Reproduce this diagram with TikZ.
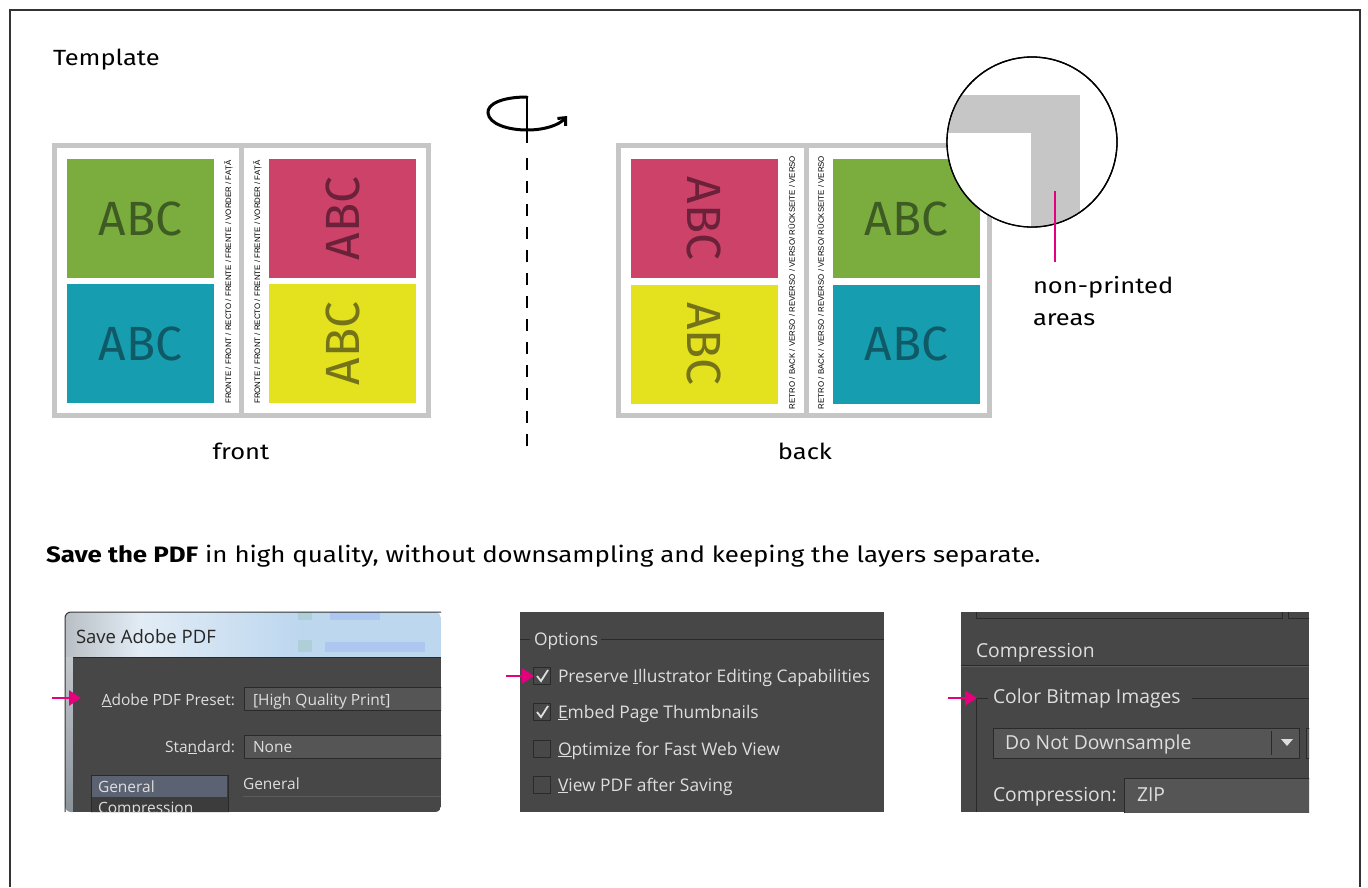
\documentclass[tikz,border=0pt]{standalone}
\usepackage{fontspec}
\setmainfont{Fira Sans}[FakeStretch=1.16]
\newfontfamily\abcfont{Fira Sans}
\newfontfamily\uifont{Open Sans}
\newfontfamily\arialfont{Liberation Sans}
\usetikzlibrary{arrows.meta}
\definecolor{tgray}{HTML}{C6C6C6}
\definecolor{cgreen}{HTML}{7AAD3E}
\definecolor{tgreen}{HTML}{3D5B22}
\definecolor{cteal}{HTML}{169DB0}
\definecolor{tteal}{HTML}{0F5A66}
\definecolor{cmag}{HTML}{CC4269}
\definecolor{tmag}{HTML}{6B2139}
\definecolor{cyel}{HTML}{E4E11E}
\definecolor{tyel}{HTML}{75731A}
\definecolor{pinkc}{HTML}{E5007D}
\definecolor{panel}{HTML}{474747}
\definecolor{uitext}{HTML}{DEDEDE}
\definecolor{fieldc}{HTML}{555555}
\definecolor{darkline}{HTML}{2A2A2A}
\definecolor{liteline}{HTML}{5C5C5C}
\definecolor{selrow}{HTML}{5B6272}
\definecolor{tbL}{HTML}{9AA3AB}
\definecolor{tbM}{HTML}{E2ECF5}
\definecolor{tbR}{HTML}{BDD7EF}
\definecolor{framec}{HTML}{333333}
\begin{document}
\begin{tikzpicture}[x=1pt,y=-1pt,
  every node/.style={inner sep=0pt,outer sep=0pt},
  txt/.style={font=\fontsize{22}{26}\selectfont, text=black},
  abc/.style={font=\abcfont\fontsize{48}{48}\selectfont},
  cbox/.style={minimum width=147pt,minimum height=119pt},
  rbox/.style={minimum width=119pt,minimum height=147pt},
  vtext/.style={font=\arialfont\fontsize{7.9}{9}\selectfont, text=black},
  ui/.style={font=\uifont\fontsize{15.5}{18}\selectfont, text=uitext, anchor=base west},
  uimid/.style={font=\uifont\fontsize{17.4}{20}\selectfont, text=uitext, anchor=base west},
  uibig/.style={font=\uifont\fontsize{19.3}{22}\selectfont, text=uitext, anchor=base west},
  chk/.style={draw=darkline, fill=fieldc!85!black, line width=1pt, minimum size=17pt},
  chkmark/.style={draw=uitext, line width=1.8pt},
  field/.style={draw=darkline, fill=fieldc, line width=1pt},
  pinkarrow/.style={draw=pinkc, line width=2.4pt, -{Triangle[length=12pt,width=15pt]}},
  rotarrow/.style={line width=3pt, line cap=round, -{Straight Barb[length=6pt,width=11pt]}}
]
\useasboundingbox (0,0) rectangle (1368,887);
\fill[white] (0,0) rectangle (1368,887);
\draw[framec, line width=1.3pt] (10,887) -- (10,10) -- (1360,10) -- (1360,887);

\node[txt, anchor=base west] (template) at (53,65) {Template};

% ---------- front template ----------
\fill[tgray] (52,143) rectangle (431,418);
\fill[white] (57,148) rectangle (239,413);
\fill[white] (244,148) rectangle (426,413);
\node[cbox, fill=cgreen, text=tgreen, abc] (fgreen) at (140.5,218.5) {ABC};
\node[cbox, fill=cteal, text=tteal, abc] (fteal) at (140.5,343.5) {ABC};
\node[rbox, fill=cmag, text=tmag, abc, rotate=90] (fmag) at (342.5,218.5) {ABC};
\node[rbox, fill=cyel, text=tyel, abc, rotate=90] (fyel) at (342.5,343.5) {ABC};
\node[vtext, rotate=90] (ftxt1) at (228.5,282) {FRONTE / FRONT / RECTO / FRENTE / FRENTE / VORDER / FAȚĂ};
\node[vtext, rotate=90] (ftxt2) at (257.5,282) {FRONTE / FRONT / RECTO / FRENTE / FRENTE / VORDER / FAȚĂ};
\node[txt, anchor=base] (front) at (241,459) {front};

% ---------- rotation axis ----------
\coordinate (axtop) at (527,97);
\coordinate (axmid) at (527,143);
\coordinate (axdash) at (527,158);
\coordinate (axbot) at (527,457);
\coordinate (rotend) at (567,116);
\draw[line width=2pt] (axtop) -- (axmid);
\draw[line width=2pt, dash pattern=on 12pt off 11pt] (axdash) -- (axbot);
\draw[rotarrow] (axtop) .. controls (502,97) and (487,104) .. (488,113)
  .. controls (489,124) and (508,130) .. (527,130)
  .. controls (545,130) and (559,125) .. (rotend);

% ---------- back template ----------
\fill[tgray] (616,143) rectangle (992,418);
\fill[white] (621,148) rectangle (804,413);
\fill[white] (809,148) rectangle (987,413);
\node[rbox, fill=cmag, text=tmag, abc, rotate=-90] (bmag) at (704.5,218.5) {ABC};
\node[rbox, fill=cyel, text=tyel, abc, rotate=-90] (byel) at (704.5,344) {ABC};
\node[cbox, fill=cgreen, text=tgreen, abc] (bgreen) at (906.5,218.5) {ABC};
\node[cbox, fill=cteal, text=tteal, abc] (bteal) at (906.5,344) {ABC};
\node[vtext, rotate=90] (btxt1) at (791.5,282.5) {RETRO / BACK / VERSO / REVERSO / VERSO/ RÜCKSEITE / VERSO};
\node[vtext, rotate=90] (btxt2) at (820.5,282.5) {RETRO / BACK / VERSO / REVERSO / VERSO/ RÜCKSEITE / VERSO};
\node[txt, anchor=base] (back) at (805,459) {back};

% ---------- magnifier ----------
\node[circle, draw=black, line width=1.3pt, fill=white, minimum size=170pt] (mag) at (1032,142) {};
\begin{scope}
  \clip (1032,142) circle (84.3);
  \fill[tgray] (930,95) rectangle (1080,240);
  \fill[white] (930,133) rectangle (1031,240);
\end{scope}
\draw[line width=1.3pt] (mag) circle (85);
\coordinate (pk1) at (1055,191);
\coordinate (pk2) at (1055,262);
\draw[pinkc, line width=2.6pt] (pk1) -- (pk2);
\node[txt, anchor=base west] (np1) at (1033,293) {non-printed};
\node[txt, anchor=base west] (np2) at (1033,325) {areas};

% ---------- save text ----------
\node[txt, font=\fontsize{22.3}{26}\selectfont, anchor=base west] (save) at (46,562) {\textbf{Save the PDF} in high quality, without downsampling and keeping the layers separate.};

% ---------- screenshot 1 ----------
\begin{scope}
  \clip[rounded corners=6pt] (65,812) -- (65,612) -- (441,612) -- (441,812) -- cycle;
  \shade[left color=tbL!70!white, right color=tbM] (65,612) rectangle (140,657);
  \shade[left color=tbM, right color=tbR] (140,612) rectangle (300,657);
  \fill[tbR] (300,612) rectangle (441,657);
  \fill[green!30!gray, opacity=0.15] (298,612) rectangle (312,620);
  \fill[green!30!gray, opacity=0.15] (298,640) rectangle (312,652);
  \fill[blue!50!tbR, opacity=0.15] (330,612) rectangle (380,620);
  \fill[blue!50!tbR, opacity=0.15] (325,642) rectangle (425,652);
  \shade[top color=tbL!60!white, bottom color=tbL!90!black] (65,657) rectangle (73,812);
  \fill[panel] (73,657) rectangle (441,812);
  \draw[darkline, line width=1pt] (73,657.5) -- (441,657.5);
  \draw[field] (244,687) rectangle (450,710);
  \draw[field] (244,735) rectangle (450,758);
  \draw[darkline, fill=panel!85!black, line width=1pt] (91,775) rectangle (228,820);
  \fill[selrow] (92,776) rectangle (227,797);
  \draw[liteline, line width=1pt] (243,796.5) -- (441,796.5);
\end{scope}
\draw[framec, line width=1pt, rounded corners=6pt] (65,812) -- (65,612) -- (441,612);
\node[font=\uifont\fontsize{18.5}{21}\selectfont, text=black!85, anchor=base west] (s1title) at (76,643) {Save Adobe PDF};
\node[ui, anchor=base east] (s1l1) at (235,705) {\underline{A}dobe PDF Preset:};
\node[ui] (s1v1) at (253,705) {[High Quality Print]};
\node[ui, anchor=base east] (s1l2) at (235,752) {Sta\underline{n}dard:};
\node[ui] (s1v2) at (253,752) {None};
\node[ui] (s1g1) at (98,792) {General};
\node[ui] (s1g2) at (243,789) {General};
\begin{scope}
  \clip (65,795) rectangle (441,812);
  \node[ui] (s1c) at (98,813) {Compression};
\end{scope}
\coordinate (a1s) at (52,698);
\coordinate (a1e) at (81,698);
\draw[pinkarrow] (a1s) -- (a1e);

% ---------- screenshot 2 ----------
\fill[panel] (520,612) rectangle (884,812);
\draw[darkline, line width=1pt] (520,639) -- (530,639);
\draw[darkline, line width=1pt] (601,639) -- (884,639);
\node[uimid] (s2opt) at (534,645) {Options};
\node[chk] (c1) at (542,676) {};
\node[chk] (c2) at (542,712) {};
\node[chk] (c3) at (542,749) {};
\node[chk] (c4) at (542,785) {};
\draw[chkmark] ([shift={(-5,0)}]c1.center) -- ([shift={(-1,5)}]c1.center) -- ([shift={(6,-6)}]c1.center);
\draw[chkmark] ([shift={(-5,0)}]c2.center) -- ([shift={(-1,5)}]c2.center) -- ([shift={(6,-6)}]c2.center);
\node[uimid] (s2l1) at (558,682) {Preserve \underline{I}llustrator Editing Capabilities};
\node[uimid] (s2l2) at (558,718) {\underline{E}mbed Page Thumbnails};
\node[uimid] (s2l3) at (558,755) {\underline{O}ptimize for Fast Web View};
\node[uimid] (s2l4) at (558,791) {\underline{V}iew PDF after Saving};
\coordinate (a2s) at (506,676);
\coordinate (a2e) at (534,676);
\draw[pinkarrow] (a2s) -- (a2e);

% ---------- screenshot 3 ----------
\fill[panel] (961,612) rectangle (1309,812);
\begin{scope}
  \clip (961,612) rectangle (1309,812);
  \draw[darkline, line width=1pt] (976,600) rectangle (1282,618);
  \draw[darkline, line width=1pt] (1288,600) rectangle (1320,618);
  \draw[darkline, line width=1pt] (961,665) -- (1309,665);
  \draw[liteline, line width=1pt] (961,666.5) -- (1309,666.5);
  \draw[darkline, line width=1pt] (976,812) -- (976,698) -- (988,698);
  \draw[darkline, line width=1pt] (1192,698) -- (1309,698);
  \draw[field] (993,728) rectangle (1299,758);
  \draw[darkline, line width=1pt] (1271,731) -- (1271,755);
  \fill[uitext] (1281,739) -- (1293,739) -- (1287,746) -- cycle;
  \draw[field] (1306,728) rectangle (1320,758);
  \draw[field] (1124,778) rectangle (1320,820);
\end{scope}
\node[uibig] (s3comp) at (976,657) {Compression};
\node[uibig] (s3cbi) at (993,703) {Color Bitmap Images};
\node[uibig] (s3dnd) at (1005,749) {Do Not Downsample};
\node[uibig] (s3c2) at (993,801) {Compression:};
\node[uibig] (s3zip) at (1137,801) {ZIP};
\coordinate (a3s) at (948,698);
\coordinate (a3e) at (977,698);
\draw[pinkarrow] (a3s) -- (a3e);
\end{tikzpicture}
\end{document}
